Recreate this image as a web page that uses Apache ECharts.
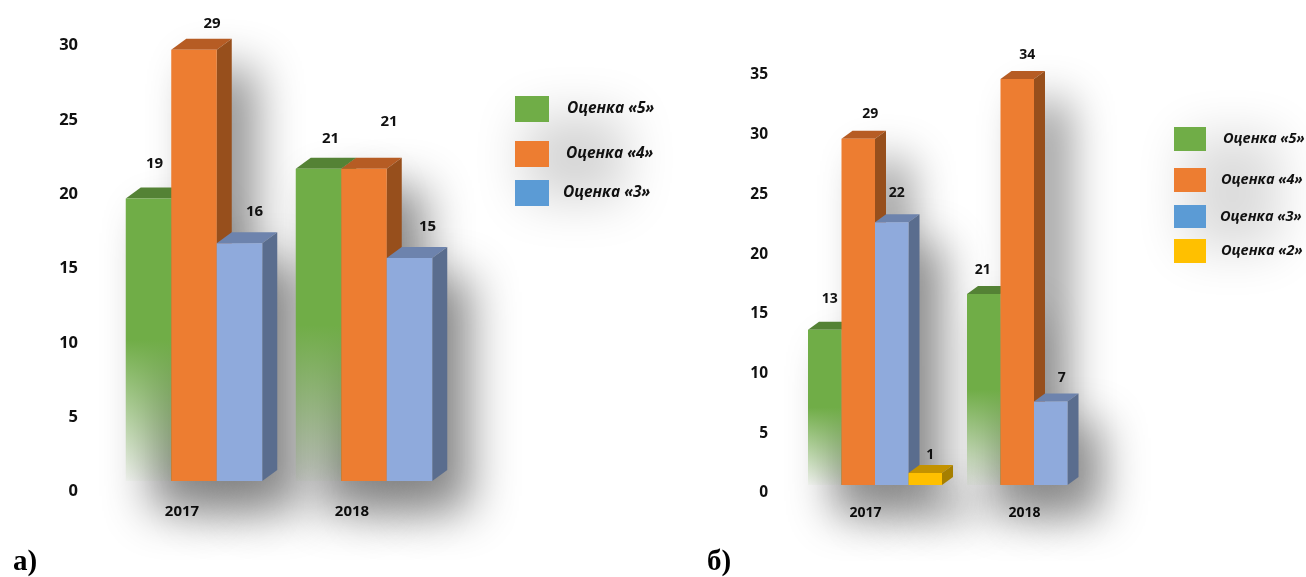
<!DOCTYPE html>
<html>
<head>
<meta charset="utf-8">
<title>Оценки</title>
<style>
html, body { margin: 0; padding: 0; background: #fff; }
#main { width: 1306px; height: 577px; }
</style>
<script src="https://cdn.jsdelivr.net/npm/echarts@6/dist/echarts.min.js"></script>
</head>
<body>
<div id="main"></div>
<script>
// data
var years = ['2017', '2018'];
var seriesNames = ['Оценка «5»', 'Оценка «4»', 'Оценка «3»', 'Оценка «2»'];

// chart a
var aFive = [19, 21];
var aFour = [29, 21];
var aThree = [16, 15];

// chart b, bar height and printed label differ for green 2018 in the picture
var bFive = [13, 16];
var bFiveLabels = [13, 21];
var bFour = [29, 34];
var bThree = [22, 7];
var bTwo = [1, null];

var aTicks = { max: 30, interval: 5 };
var bTicks = { max: 35, interval: 5 };

// label shift from the bar centre / top, px
var aShift = [[[6, -35], [12, -30]], [[18, -26], [25, -47]], [[15, -31], [18, -31]]];
var bShift = [[[5, -31], [-1, -24]], [[12, -25], [10, -24]], [[5, -29], [11, -23]], [[5, -18], [0, 0]]];

var colors = [
    { front: '#70AD47', top: '#548235', side: '#4E7A31', swatch: '#70AD47' },
    { front: '#ED7D31', top: '#B65C24', side: '#974F1C', swatch: '#ED7D31' },
    { front: '#8FAADC', top: '#6D83AD', side: '#5A6D8E', swatch: '#5B9BD5' },
    { front: '#FFC000', top: '#C39200', side: '#A67F00', swatch: '#FFC000' }
];

var FONT = '"Open Sans", "Noto Sans", sans-serif';

function rows(values, labels) {
    var out = [];
    for (var i = 0; i < values.length; i++) {
        out.push([i, values[i], labels ? labels[i] : values[i]]);
    }
    return out;
}

function greenFade() {
    return {
        type: 'linear', x: 0, y: 0, x2: 0, y2: 1,
        colorStops: [
            { offset: 0, color: '#70AD47' },
            { offset: 0.5, color: '#70AD47' },
            { offset: 1, color: 'rgba(112,173,71,0.04)' }
        ]
    };
}

// 3d box for one bar
function boxRenderer(conf, slot) {
    return function (params, api) {
        var v = api.value(1);
        if (isNaN(v) || v === null) {
            return;
        }
        var band = api.size([1, 0])[0];
        var w = band * conf.barShare;
        var p = api.coord([api.value(0), v]);
        var base = api.coord([api.value(0), 0])[1];
        var x = p[0] - conf.slots * w / 2 + slot * w;
        var y = p[1];
        var dx = conf.depthX;
        var dy = conf.depthY;
        var c = colors[slot];
        var shift = conf.shift[slot][params.dataIndex];
        return {
            type: 'group',
            children: [
                {
                    type: 'polygon',
                    shape: { points: [[x, y], [x + w, y], [x + w + dx, y - dy], [x + dx, y - dy]] },
                    style: { fill: c.top }
                },
                {
                    type: 'polygon',
                    shape: { points: [[x + w, y], [x + w + dx, y - dy], [x + w + dx, base - dy], [x + w, base]] },
                    style: { fill: c.side }
                },
                {
                    type: 'rect',
                    shape: { x: x, y: y, width: w, height: base - y },
                    style: { fill: slot === 0 ? greenFade() : c.front }
                },
                {
                    type: 'text',
                    style: {
                        x: x + w / 2 + shift[0],
                        y: y + shift[1],
                        text: String(api.value(2)),
                        align: 'center',
                        verticalAlign: 'middle',
                        fill: '#111',
                        fontFamily: FONT,
                        fontWeight: 700,
                        fontSize: conf.valueSize
                    }
                }
            ]
        };
    };
}

// soft shadow only: the rect itself sits off canvas
function shadowRenderer(conf, slot) {
    return function (params, api) {
        var v = api.value(1);
        if (isNaN(v) || v === null) {
            return;
        }
        var band = api.size([1, 0])[0];
        var w = band * conf.barShare;
        var p = api.coord([api.value(0), v]);
        var base = api.coord([api.value(0), 0])[1];
        var x = p[0] - conf.slots * w / 2 + slot * w;
        return {
            type: 'rect',
            shape: { x: x - 3000, y: p[1] - conf.depthY, width: w + conf.depthX, height: base - p[1] + conf.depthY },
            style: {
                fill: '#000',
                shadowColor: 'rgba(0,0,0,' + conf.shadowAlpha + ')',
                shadowBlur: conf.blur,
                shadowOffsetX: 3000 + conf.shadowX,
                shadowOffsetY: conf.shadowY
            }
        };
    };
}

function buildSeries(conf, axisIndex, lists) {
    var out = [];
    var i;
    for (i = 0; i < lists.length; i++) {
        out.push({
            type: 'custom',
            xAxisIndex: axisIndex,
            yAxisIndex: axisIndex,
            clip: false,
            silent: true,
            z: 1,
            renderItem: shadowRenderer(conf, i),
            encode: { x: 0, y: 1 },
            data: lists[i]
        });
    }
    for (i = 0; i < lists.length; i++) {
        out.push({
            type: 'custom',
            name: seriesNames[i],
            xAxisIndex: axisIndex,
            yAxisIndex: axisIndex,
            clip: false,
            z: 2,
            itemStyle: { color: colors[i].front },
            renderItem: boxRenderer(conf, i),
            encode: { x: 0, y: 1 },
            data: lists[i]
        });
    }
    return out;
}

function legendItem(index, left, top, w, h, gap, size) {
    return {
        left: left,
        top: top,
        padding: 0,
        selectedMode: false,
        icon: 'rect',
        itemWidth: w,
        itemHeight: h,
        data: [{ name: seriesNames[index], itemStyle: { color: colors[index].swatch } }],
        textStyle: {
            color: '#111',
            fontFamily: FONT,
            fontStyle: 'italic',
            fontWeight: 700,
            fontSize: size,
            padding: [0, 0, 0, gap]
        }
    };
}

function softBlob(x, y, w, h, alpha, blur) {
    return {
        type: 'rect',
        silent: true,
        z: 0,
        shape: { x: x - 3000, y: y, width: w, height: h },
        style: {
            fill: '#000',
            shadowColor: 'rgba(0,0,0,' + alpha + ')',
            shadowBlur: blur,
            shadowOffsetX: 3000
        }
    };
}

function yAxisOf(grid, ticks, margin, size, lineHeight) {
    return {
        type: 'value',
        gridIndex: grid,
        min: 0,
        max: ticks.max,
        interval: ticks.interval,
        axisLine: { show: false },
        axisTick: { show: false },
        splitLine: { show: false },
        axisLabel: {
            margin: margin,
            color: '#111',
            fontFamily: FONT,
            fontWeight: 700,
            fontSize: size,
            verticalAlign: 'top',
            lineHeight: lineHeight
        }
    };
}

function xAxisOf(grid, margin, size, left) {
    return {
        type: 'category',
        gridIndex: grid,
        data: years,
        axisLine: { show: false },
        axisTick: { show: false },
        splitLine: { show: false },
        axisLabel: {
            margin: margin,
            color: '#111',
            fontFamily: FONT,
            fontWeight: 700,
            fontSize: size,
            padding: [0, left, 0, 0]
        }
    };
}

var aConf = { slots: 3, barShare: 45.5 / 170, depthX: 15, depthY: 11, shift: aShift, valueSize: 15, blur: 46, shadowX: 24, shadowY: 30, shadowAlpha: 0.44 };
var bConf = { slots: 4, barShare: 33.5 / 159, depthX: 11, depthY: 8, shift: bShift, valueSize: 14, blur: 44, shadowX: 24, shadowY: 30, shadowAlpha: 0.42 };

var myChart = echarts.init(document.getElementById('main'), null, { renderer: 'canvas' });

var aLists = [rows(aFive), rows(aFour), rows(aThree)];
var bLists = [rows(bFive, bFiveLabels), rows(bFour), rows(bThree), rows(bTwo)];

myChart.setOption({
    animation: false,
    backgroundColor: '#fff',
    title: [
        { text: 'а)', left: 13, top: 548, padding: 0, textStyle: { fontFamily: '"Liberation Serif", serif', fontWeight: 700, fontSize: 29, color: '#000' } },
        { text: 'б)', left: 707, top: 548, padding: 0, textStyle: { fontFamily: '"Liberation Serif", serif', fontWeight: 700, fontSize: 29, color: '#000' } }
    ],
    grid: [
        { left: 109, top: 35, width: 340, height: 446 },
        { left: 795.5, top: 67, width: 318, height: 418 }
    ],
    xAxis: [xAxisOf(0, 23, 15, 24), xAxisOf(1, 21, 14, 19)],
    yAxis: [yAxisOf(0, aTicks, 31, 16.5, 21), yAxisOf(1, bTicks, 27.5, 15.5, 16)],
    legend: [
        legendItem(0, 515, 96, 34, 26, 13, 15.5),
        legendItem(1, 515, 141, 34, 26, 12, 15.5),
        legendItem(2, 515, 180, 34, 26, 9, 15.5),
        legendItem(0, 1174, 127, 32, 24, 12, 14.5),
        legendItem(1, 1174, 168, 32, 24, 10, 14.5),
        legendItem(2, 1174, 205, 32, 23, 9, 14.5),
        legendItem(3, 1174, 239, 32, 24, 10, 14.5)
    ],
    graphic: [
        softBlob(525, 115, 100, 85, 0.17, 50),
        softBlob(1185, 135, 95, 115, 0.14, 50)
    ],
    series: buildSeries(aConf, 0, aLists).concat(buildSeries(bConf, 1, bLists))
});
</script>
</body>
</html>
